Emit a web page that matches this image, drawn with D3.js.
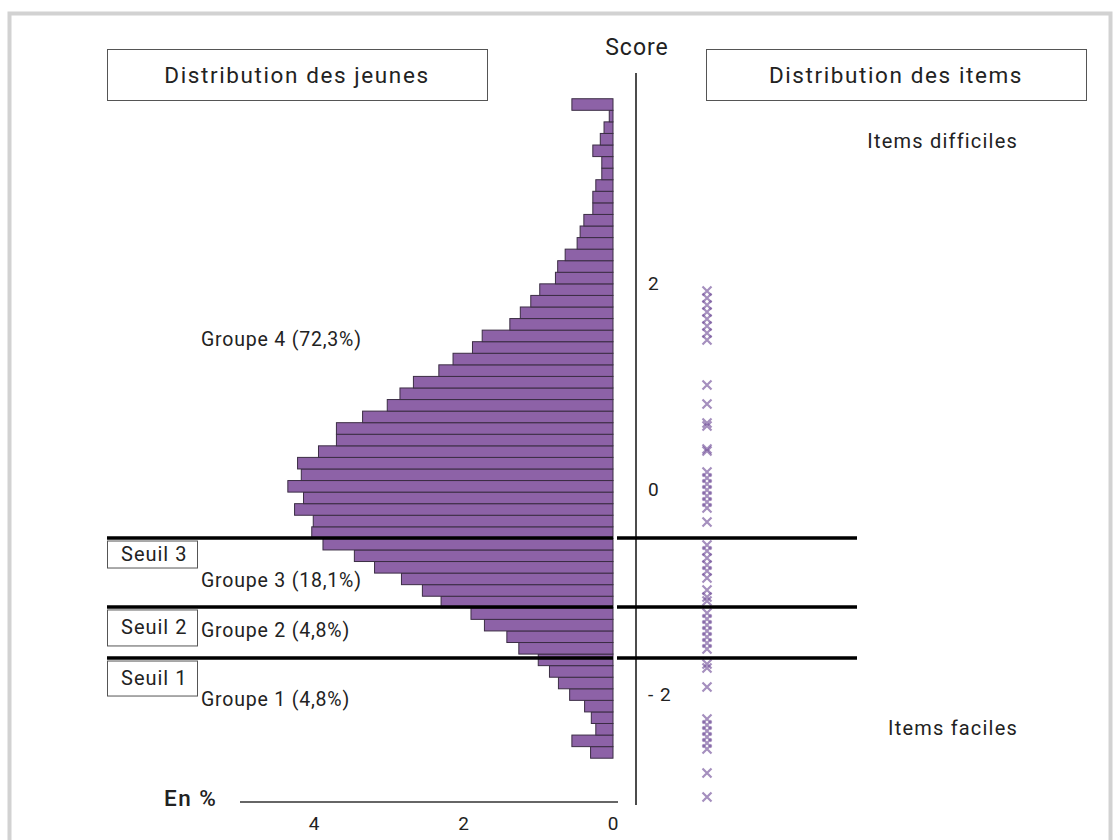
<!DOCTYPE html>
<html>
<head>
<meta charset="utf-8">
<script src="https://cdn.jsdelivr.net/npm/d3@7"></script>
<style>
  html, body { margin: 0; padding: 0; background: #fff; }
  svg { display: block; }
  text { font-family: Roboto, "Liberation Sans", sans-serif; fill: #222; letter-spacing: 0.8px; }
</style>
</head>
<body>
<svg id="chart" width="1120" height="840"></svg>
<script>
// ---------- DATA ----------
// Distribution of young people: % per score bin, listed from lowest to highest score
const binStart = -2.62;   // score of the lower edge of the first bin
const binWidth = 0.1126;  // score width of each bin
const youthPct = [
  0.30, 0.55, 0.23, 0.29, 0.38, 0.58, 0.73, 0.85, 1.00, 1.26,
  1.42, 1.72, 1.90, 2.30, 2.55, 2.83, 3.19, 3.46, 3.88, 4.03,
  4.01, 4.26, 4.14, 4.35, 4.17, 4.22, 3.94, 3.70, 3.70, 3.35,
  3.02, 2.85, 2.67, 2.33, 2.14, 1.88, 1.75, 1.38, 1.24, 1.10,
  0.98, 0.77, 0.74, 0.64, 0.48, 0.44, 0.39, 0.27, 0.27, 0.23,
  0.15, 0.15, 0.27, 0.17, 0.12, 0.05, 0.55
];

// Item difficulties (score)
const itemScores = [
  1.927, 1.859, 1.791, 1.723, 1.655, 1.586, 1.518, 1.450,
  1.012, 0.827, 0.642, 0.613, 0.389, 0.370,
  0.165, 0.107, 0.049, -0.010, -0.068, -0.127, -0.185, -0.321,
  -0.545, -0.603, -0.672, -0.740, -0.798, -0.866, -0.983, -1.051, -1.090,
  -1.207, -1.265, -1.324, -1.382, -1.440, -1.499, -1.557,
  -1.703, -1.742, -1.927,
  -2.238, -2.297, -2.355, -2.414, -2.472, -2.530, -2.764, -2.998
];

// Thresholds (score)
const seuilNames = ["Seuil 1", "Seuil 2", "Seuil 3"];
const seuilScores = [-1.645, -1.148, -0.477];

// Group labels
const groupLabels = ["Groupe 1 (4,8%)", "Groupe 2 (4,8%)", "Groupe 3 (18,1%)", "Groupe 4 (72,3%)"];

// Axis ticks
const scoreTicks = [-2, 0, 2];
const scoreTickLabels = ["- 2", "0", "2"];
const pctTicks = [0, 2, 4];

// ---------- LAYOUT ----------
const svg = d3.select("#chart");
const C = {
  axisX: 636, barRight: 613, pxPerPct: 74.75,
  score0Y: 489, pxPerScore: 102.75,
  lineLeft: 107, lineRight: 857, lineGapR: 617,
  itemX: 707
};
const groupLabelY = [701, 632, 582, 341];
const seuilBoxH = [35, 36, 27];

const y = d3.scaleLinear().domain([-3, 3])
  .range([C.score0Y + 3 * C.pxPerScore, C.score0Y - 3 * C.pxPerScore]);
const x = d3.scaleLinear().domain([0, 5]).range([C.barRight, C.barRight - 5 * C.pxPerPct]);

// outer frame
svg.append("rect").attr("x", 9.5).attr("y", 13.5).attr("width", 1101).attr("height", 840)
  .attr("fill", "none").attr("stroke", "#d2d2d2").attr("stroke-width", 4);

// header boxes
const headers = [
  { text: "Distribution des jeunes", x: 107 },
  { text: "Distribution des items", x: 706 }
];
headers.forEach(h => {
  svg.append("rect").attr("x", h.x + 0.5).attr("y", 49.5).attr("width", 380).attr("height", 51)
    .attr("fill", "#fff").attr("stroke", "#555").attr("stroke-width", 1);
  svg.append("text").attr("x", h.x + 190).attr("y", 77).attr("text-anchor", "middle")
    .attr("dominant-baseline", "middle").attr("font-size", 22.5)
    .style("letter-spacing", "1.6px").text(h.text);
});

// bars
const bars = youthPct.map((p, i) => ({ p, lo: binStart + i * binWidth, hi: binStart + (i + 1) * binWidth }));
svg.append("g").selectAll("rect").data(bars).join("rect")
  .attr("x", d => x(d.p))
  .attr("y", d => y(d.hi))
  .attr("width", d => x(0) - x(d.p))
  .attr("height", d => y(d.lo) - y(d.hi))
  .attr("fill", "#8d62a7")
  .attr("stroke", "#3b2d44")
  .attr("stroke-width", 1);

// score axis
const scoreAxis = d3.axisRight(y).tickValues(scoreTicks)
  .tickFormat((d, i) => scoreTickLabels[i]).tickSize(0).tickPadding(12);
const gAxis = svg.append("g").attr("transform", `translate(${C.axisX},0)`).call(scoreAxis);
gAxis.select(".domain").remove();
gAxis.selectAll("text").attr("font-size", 19).attr("fill", "#222")
  .style("font-family", "Roboto, sans-serif").style("letter-spacing", "1px");
svg.append("line").attr("x1", C.axisX).attr("x2", C.axisX).attr("y1", 73).attr("y2", 805)
  .attr("stroke", "#111").attr("stroke-width", 1.5);
svg.append("text").attr("x", C.axisX + 1).attr("y", 49).attr("text-anchor", "middle")
  .attr("dominant-baseline", "middle").attr("font-size", 23).style("letter-spacing", "1px").text("Score");

// percent axis
const pctAxis = d3.axisBottom(x).tickValues(pctTicks).tickSize(0).tickPadding(15).tickFormat(d3.format("d"));
const gP = svg.append("g").attr("transform", "translate(0,802)").call(pctAxis);
gP.select(".domain").remove();
gP.selectAll("text").attr("font-size", 19).attr("fill", "#222").style("font-family", "Roboto, sans-serif");
svg.append("line").attr("x1", 240).attr("x2", 618).attr("y1", 802).attr("y2", 802)
  .attr("stroke", "#333").attr("stroke-width", 1.5);
svg.append("text").attr("x", 164).attr("y", 800).attr("dominant-baseline", "middle")
  .attr("font-size", 22.5).attr("font-weight", 500).style("letter-spacing", "1.5px").text("En %");

// items
svg.append("g").selectAll("path").data(itemScores).join("path")
  .attr("transform", d => `translate(${C.itemX},${y(d)})`)
  .attr("d", "M-4.5,-4.5L4.5,4.5M-4.5,4.5L4.5,-4.5")
  .attr("stroke", "#74539b").attr("stroke-opacity", 0.65).attr("stroke-width", 2.2)
  .attr("fill", "none");

// threshold lines + boxes
seuilScores.forEach((s, i) => {
  const yy = y(s);
  svg.append("line").attr("x1", C.lineLeft).attr("x2", C.barRight).attr("y1", yy).attr("y2", yy)
    .attr("stroke", "#000").attr("stroke-width", 3.5);
  svg.append("line").attr("x1", C.lineGapR).attr("x2", C.lineRight).attr("y1", yy).attr("y2", yy)
    .attr("stroke", "#000").attr("stroke-width", 3.5);
  svg.append("rect").attr("x", C.lineLeft + 0.5).attr("y", yy + 3).attr("width", 90).attr("height", seuilBoxH[i])
    .attr("fill", "#fff").attr("stroke", "#555").attr("stroke-width", 1);
  svg.append("text").attr("x", C.lineLeft + 14).attr("y", yy + 3 + seuilBoxH[i] / 2 + 1)
    .attr("dominant-baseline", "middle").attr("font-size", 20).style("letter-spacing", "1px").text(seuilNames[i]);
});

// group labels
groupLabels.forEach((g, i) => {
  svg.append("text").attr("x", 201).attr("y", groupLabelY[i]).attr("dominant-baseline", "middle")
    .attr("font-size", 19.5).text(g);
});

// items difficiles / faciles
svg.append("text").attr("x", 1018).attr("y", 143).attr("text-anchor", "end")
  .attr("dominant-baseline", "middle").attr("font-size", 20).style("letter-spacing", "1.2px").text("Items difficiles");
svg.append("text").attr("x", 1018).attr("y", 730).attr("text-anchor", "end")
  .attr("dominant-baseline", "middle").attr("font-size", 20).style("letter-spacing", "1.2px").text("Items faciles");
</script>
</body>
</html>
